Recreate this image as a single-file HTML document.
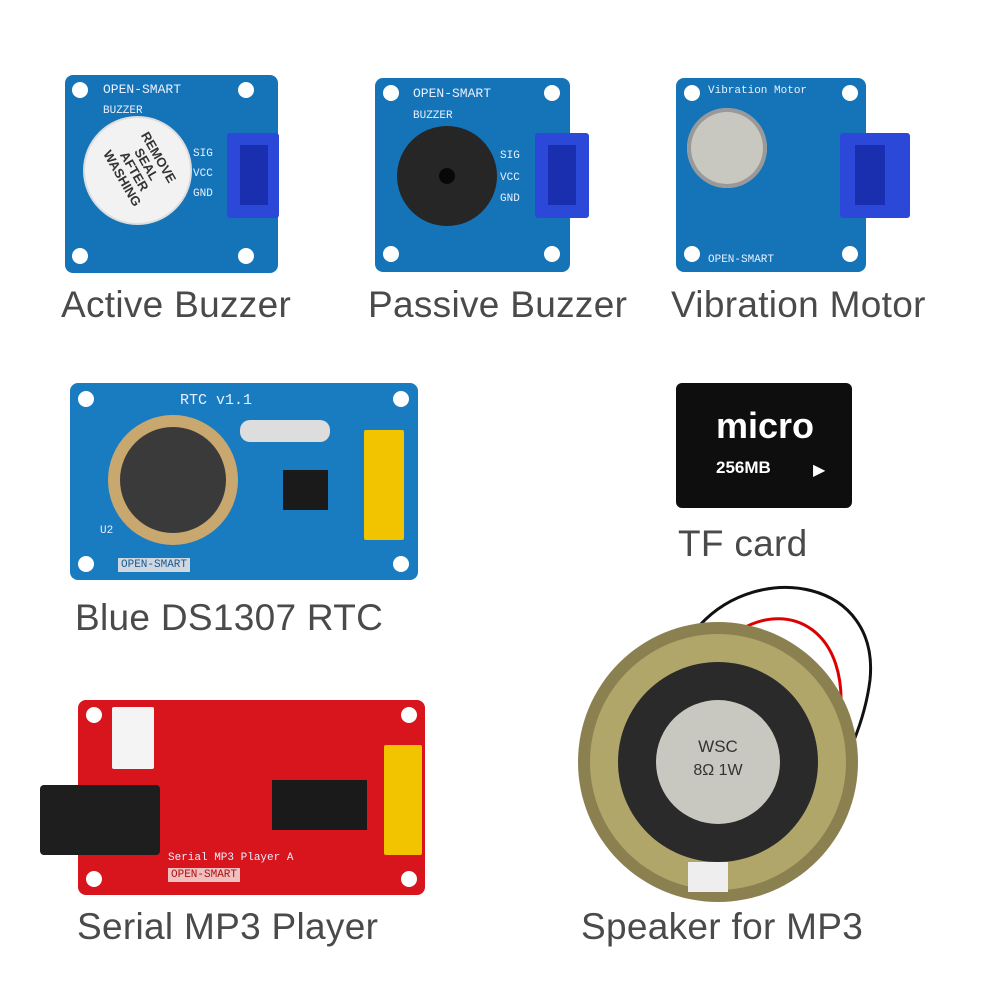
<!DOCTYPE html>
<html><head><meta charset="utf-8"><style>
html,body{margin:0;padding:0;background:#fff;}
#c{position:relative;width:1000px;height:1000px;overflow:hidden;font-family:"Liberation Sans",sans-serif;}
.lbl{position:absolute;font-size:37px;color:#4a4a4a;white-space:nowrap;letter-spacing:0.3px}
.pcb{position:absolute;border-radius:8px}
.hole{position:absolute;width:16px;height:16px;border-radius:50%;background:#fff}
.t{position:absolute;font-size:11px;color:#e8f0ff;font-family:"Liberation Mono",monospace;white-space:nowrap}
</style></head><body><div id="c">

<!-- Active Buzzer -->
<div class="pcb" style="left:65px;top:75px;width:213px;height:198px;background:#1574b8"></div>
<div class="hole" style="left:72px;top:82px"></div><div class="hole" style="left:238px;top:82px"></div>
<div class="hole" style="left:72px;top:248px"></div><div class="hole" style="left:238px;top:248px"></div>
<div class="t" style="left:103px;top:82px;font-size:13px">OPEN-SMART</div>
<div class="t" style="left:103px;top:105px">BUZZER</div>
<div style="position:absolute;left:85px;top:118px;width:105px;height:105px;border-radius:50%;background:#f2f2f2;box-shadow:0 0 0 2px #ddd"></div>
<div style="position:absolute;left:100px;top:140px;color:#333;font-size:13px;font-weight:bold;transform:rotate(60deg);line-height:14px;text-align:center;width:80px">REMOVE<br>SEAL AFTER<br>WASHING</div>
<div class="t" style="left:193px;top:148px">SIG</div><div class="t" style="left:193px;top:168px">VCC</div><div class="t" style="left:193px;top:188px">GND</div>
<div style="position:absolute;left:227px;top:133px;width:52px;height:85px;background:#2c48d8;border-radius:3px"></div>
<div style="position:absolute;left:240px;top:145px;width:28px;height:60px;background:#1a2fb0"></div>

<!-- Passive Buzzer -->
<div class="pcb" style="left:375px;top:78px;width:195px;height:194px;background:#1574b8"></div>
<div class="hole" style="left:383px;top:85px"></div><div class="hole" style="left:544px;top:85px"></div>
<div class="hole" style="left:383px;top:246px"></div><div class="hole" style="left:544px;top:246px"></div>
<div class="t" style="left:413px;top:86px;font-size:13px">OPEN-SMART</div>
<div class="t" style="left:413px;top:110px">BUZZER</div>
<div style="position:absolute;left:397px;top:126px;width:100px;height:100px;border-radius:50%;background:#262626"></div>
<div style="position:absolute;left:439px;top:168px;width:16px;height:16px;border-radius:50%;background:#080808"></div>
<div class="t" style="left:500px;top:150px">SIG</div><div class="t" style="left:500px;top:172px">VCC</div><div class="t" style="left:500px;top:193px">GND</div>
<div style="position:absolute;left:535px;top:133px;width:54px;height:85px;background:#2c48d8;border-radius:3px"></div>
<div style="position:absolute;left:548px;top:145px;width:28px;height:60px;background:#1a2fb0"></div>

<!-- Vibration Motor -->
<div class="pcb" style="left:676px;top:78px;width:190px;height:194px;background:#1574b8"></div>
<div class="hole" style="left:684px;top:85px"></div><div class="hole" style="left:842px;top:85px"></div>
<div class="hole" style="left:684px;top:246px"></div><div class="hole" style="left:842px;top:246px"></div>
<div class="t" style="left:708px;top:85px">Vibration Motor</div>
<div style="position:absolute;left:687px;top:108px;width:80px;height:80px;border-radius:50%;background:#c8c8c0;box-shadow:inset 0 0 0 4px #999"></div>
<div class="t" style="left:708px;top:254px">OPEN-SMART</div>
<div style="position:absolute;left:840px;top:133px;width:70px;height:85px;background:#2c48d8;border-radius:3px"></div>
<div style="position:absolute;left:855px;top:145px;width:30px;height:60px;background:#1a2fb0"></div>

<div class="lbl" style="left:61px;top:284px">Active Buzzer</div>
<div class="lbl" style="left:368px;top:284px">Passive Buzzer</div>
<div class="lbl" style="left:671px;top:284px">Vibration Motor</div>

<!-- RTC -->
<div class="pcb" style="left:70px;top:383px;width:348px;height:197px;background:#1a7cc0"></div>
<div class="hole" style="left:78px;top:391px"></div><div class="hole" style="left:393px;top:391px"></div>
<div class="hole" style="left:78px;top:556px"></div><div class="hole" style="left:393px;top:556px"></div>
<div class="t" style="left:180px;top:392px;font-size:15px">RTC v1.1</div>
<div style="position:absolute;left:108px;top:415px;width:130px;height:130px;border-radius:50%;background:#c9a870"></div>
<div style="position:absolute;left:120px;top:427px;width:106px;height:106px;border-radius:50%;background:#3a3a3a"></div>
<div style="position:absolute;left:240px;top:420px;width:90px;height:22px;background:#ddd;border-radius:10px"></div>
<div style="position:absolute;left:283px;top:470px;width:45px;height:40px;background:#1a1a1a"></div>
<div style="position:absolute;left:364px;top:430px;width:40px;height:110px;background:#f2c400;border-radius:2px"></div>
<div class="t" style="left:100px;top:525px">U2</div>
<div style="position:absolute;left:118px;top:558px;background:#cfd8e0;color:#1a5a90;font-size:11px;font-family:'Liberation Mono',monospace;padding:1px 3px">OPEN-SMART</div>
<div class="lbl" style="left:75px;top:597px">Blue DS1307 RTC</div>

<!-- TF card -->
<div style="position:absolute;left:676px;top:383px;width:176px;height:125px;background:#0e0e0e;border-radius:6px"></div>
<div style="position:absolute;left:716px;top:405px;color:#fff;font-size:36px;font-weight:bold">micro</div>
<div style="position:absolute;left:716px;top:458px;color:#fff;font-size:17px;font-weight:bold">256MB</div>
<div style="position:absolute;left:813px;top:460px;color:#fff;font-size:16px">▶</div>
<div class="lbl" style="left:678px;top:523px">TF card</div>

<!-- MP3 -->
<div class="pcb" style="left:78px;top:700px;width:347px;height:195px;background:#d8141c"></div>
<div class="hole" style="left:86px;top:707px"></div><div class="hole" style="left:401px;top:707px"></div>
<div class="hole" style="left:86px;top:871px"></div><div class="hole" style="left:401px;top:871px"></div>
<div style="position:absolute;left:112px;top:707px;width:42px;height:62px;background:#f4f4f4;border-radius:2px"></div>
<div style="position:absolute;left:40px;top:785px;width:120px;height:70px;background:#1e1e1e;border-radius:4px"></div>
<div style="position:absolute;left:272px;top:780px;width:95px;height:50px;background:#1a1a1a"></div>
<div style="position:absolute;left:384px;top:745px;width:38px;height:110px;background:#f2c400;border-radius:2px"></div>
<div class="t" style="left:168px;top:852px">Serial MP3 Player A</div>
<div style="position:absolute;left:168px;top:868px;background:#f0c0c0;color:#b01010;font-size:11px;font-family:'Liberation Mono',monospace;padding:1px 3px">OPEN-SMART</div>
<div class="lbl" style="left:77px;top:906px">Serial MP3 Player</div>

<!-- Speaker -->
<svg style="position:absolute;left:0;top:0" width="1000" height="1000">
<path d="M700,625 C760,560 880,580 870,680 C860,760 800,850 730,880" stroke="#111" stroke-width="3" fill="none"/>
<path d="M740,630 C790,600 850,630 840,720 C830,790 780,850 730,872" stroke="#d00" stroke-width="3" fill="none"/>
<circle cx="718" cy="762" r="140" fill="#8a8050"/>
<circle cx="718" cy="762" r="128" fill="#b0a66a"/>
<circle cx="718" cy="762" r="100" fill="#2a2a2a"/>
<circle cx="718" cy="762" r="62" fill="#c8c8c0"/>
<text x="718" y="752" font-family="Liberation Sans" font-size="17" text-anchor="middle" fill="#333">WSC</text>
<text x="718" y="775" font-family="Liberation Sans" font-size="16" text-anchor="middle" fill="#333">8Ω 1W</text>
<rect x="688" y="862" width="40" height="30" fill="#eee"/>
</svg>
<div class="lbl" style="left:581px;top:906px">Speaker for MP3</div>

</div></body></html>
